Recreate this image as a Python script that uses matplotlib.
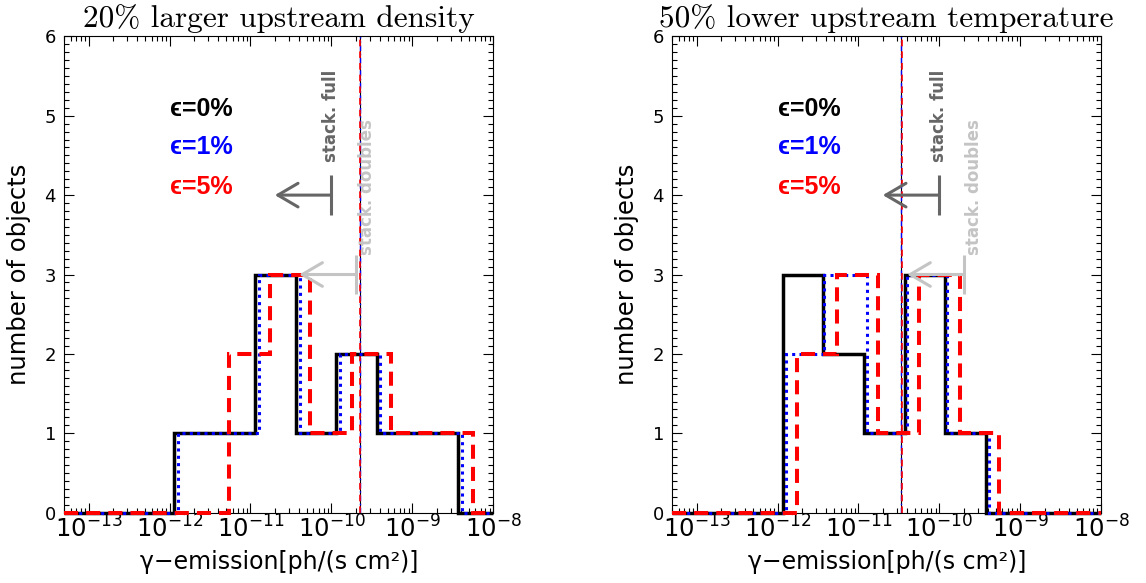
import numpy as np
import matplotlib
matplotlib.use("Agg")
import matplotlib.pyplot as plt
from matplotlib.ticker import LogLocator, NullFormatter, MultipleLocator

plt.rcParams['mathtext.fontset'] = 'dejavusans'

# x range of both panels
xlim = (5e-14, 1e-8)
xticks = [1e-13, 1e-12, 1e-11, 1e-10, 1e-9, 1e-8]

# left panel: 20% larger upstream density
left_black_edges = [1.15e-12, 3.63e-12, 1.15e-11, 3.63e-11, 1.15e-10, 3.63e-10, 1.15e-9, 3.7e-9]
left_black_counts = [1, 1, 3, 1, 2, 1, 1]
left_blue_edges = [1.26e-12, 3.98e-12, 1.29e-11, 4.07e-11, 1.26e-10, 3.98e-10, 1.26e-9, 4.07e-9]
left_blue_counts = [1, 1, 3, 1, 2, 1, 1]
left_red_edges = [5.5e-12, 1.74e-11, 5.4e-11, 1.78e-10, 5.5e-10, 1.78e-9, 5.6e-9]
left_red_counts = [2, 3, 1, 2, 1, 1]
left_vlines = [2.24e-10, 2.23e-10, 2.28e-10]   # black, blue, red

# right panel: 50% lower upstream temperature
right_black_edges = [1.17e-12, 3.63e-12, 1.17e-11, 3.72e-11, 1.17e-10, 3.8e-10]
right_black_counts = [3, 2, 1, 3, 1]
right_blue_edges = [1.26e-12, 3.8e-12, 1.26e-11, 3.98e-11, 1.23e-10, 4.07e-10]
right_blue_counts = [2, 3, 1, 3, 1]
right_red_edges = [1.74e-12, 5.5e-12, 1.74e-11, 5.6e-11, 1.78e-10, 5.5e-10]
right_red_counts = [2, 3, 1, 3, 1]
right_vlines = [3.4e-11, 3.37e-11, 3.45e-11]

# stacking upper limits (x, y)
stack_full = (1.0e-10, 4)
stack_doubles = (2.0e-10, 3)

titles = ["20% larger upstream density", "50% lower upstream temperature"]
eps_labels = ["ϵ=0%", "ϵ=1%", "ϵ=5%"]
eps_colors = ["black", "blue", "red"]
eps_y = [5.09, 4.6, 4.1]

fig = plt.figure(figsize=(11.46, 5.83), dpi=100)
ax1 = fig.add_axes([0.0561, 0.1206, 0.3743, 0.8171])
ax2 = fig.add_axes([0.5867, 0.1206, 0.3741, 0.8171])


def hist(ax, edges, counts, **kw):
    e = [xlim[0]] + list(edges) + [xlim[1]]
    v = [0] + list(counts) + [0]
    ax.stairs(v, e, baseline=None, clip_on=False, joinstyle='miter', capstyle='butt', **kw)


panels = [
    (ax1, left_black_edges, left_black_counts, left_blue_edges, left_blue_counts,
     left_red_edges, left_red_counts, left_vlines),
    (ax2, right_black_edges, right_black_counts, right_blue_edges, right_blue_counts,
     right_red_edges, right_red_counts, right_vlines),
]

for i, (ax, bke, bkc, ble, blc, rde, rdc, vl) in enumerate(panels):
    ax.set_xscale('log')
    ax.set_xlim(*xlim)
    ax.set_ylim(0, 6)

    ax.axvline(vl[0], color='black', lw=0.8, zorder=1)
    ax.axvline(vl[1], color='blue', lw=1.0, ls=(0, (4, 2, 1, 2)), zorder=1)
    ax.axvline(vl[2], color='red', lw=1.2, ls=(0, (4, 3)), zorder=1)

    hist(ax, bke, bkc, color='black', lw=2.5, zorder=3)
    hist(ax, ble, blc, color='blue', lw=2.2, ls=(0, (1.0, 1.4)), zorder=4)
    hist(ax, rde, rdc, color='red', lw=2.9, ls=(0, (3.5, 2.0)), zorder=5)

    # stacking limits with arrows
    for (x, y), col, lab, dx, ty in [(stack_full, '#666666', 'stack. full', 1.0, 4.42),
                                     (stack_doubles, '#c4c4c4', 'stack. doubles', 1.36, 3.24)]:
        ax.vlines(x, y - 0.25, y + 0.25, color=col, lw=2.2, zorder=6)
        ax.annotate('', xy=(x / 5.0, y), xytext=(x, y),
                    arrowprops=dict(arrowstyle='->,head_length=1.45,head_width=0.85',
                                    color=col, lw=2.2, shrinkA=0, shrinkB=0,
                                    mutation_scale=10), zorder=6)
        ax.text(x * dx, ty, lab, rotation=90, ha='center', va='bottom',
                fontsize=12, fontweight='bold', color=col, zorder=6)

    for lab, col, y in zip(eps_labels, eps_colors, eps_y):
        ax.text(1e-12, y, lab, color=col, fontsize=18, fontweight='bold',
                family=['Liberation Sans', 'DejaVu Sans'], ha='left', va='center')

    ax.set_yticks(range(7))
    ax.yaxis.set_minor_locator(MultipleLocator(0.1))
    ax.set_xticks(xticks)
    ax.xaxis.set_minor_locator(LogLocator(base=10, subs=np.arange(2, 10) * 1.0, numticks=100))
    ax.xaxis.set_minor_formatter(NullFormatter())
    ax.tick_params(which='both', direction='in', top=True, right=True, width=0.8, color='black')
    ax.tick_params(which='major', length=7)
    ax.tick_params(which='minor', length=3.5)
    ax.tick_params(axis='x', labelsize=17.5, pad=2)
    ax.tick_params(axis='y', labelsize=13, pad=6)
    for s in ax.spines.values():
        s.set_linewidth(0.8)

    ax.set_title(titles[i], fontfamily='cmr10', fontsize=22.5, pad=6.5)
    ax.text(-0.106, 0.5, 'number of objects', rotation=90, transform=ax.transAxes,
            ha='center', va='center', fontsize=17.5)
    ax.text(0.5, -0.103, 'γ−emission[ph/(s cm²)]', transform=ax.transAxes,
            ha='center', va='center', fontsize=17)

fig.savefig('out.png', dpi=100)
